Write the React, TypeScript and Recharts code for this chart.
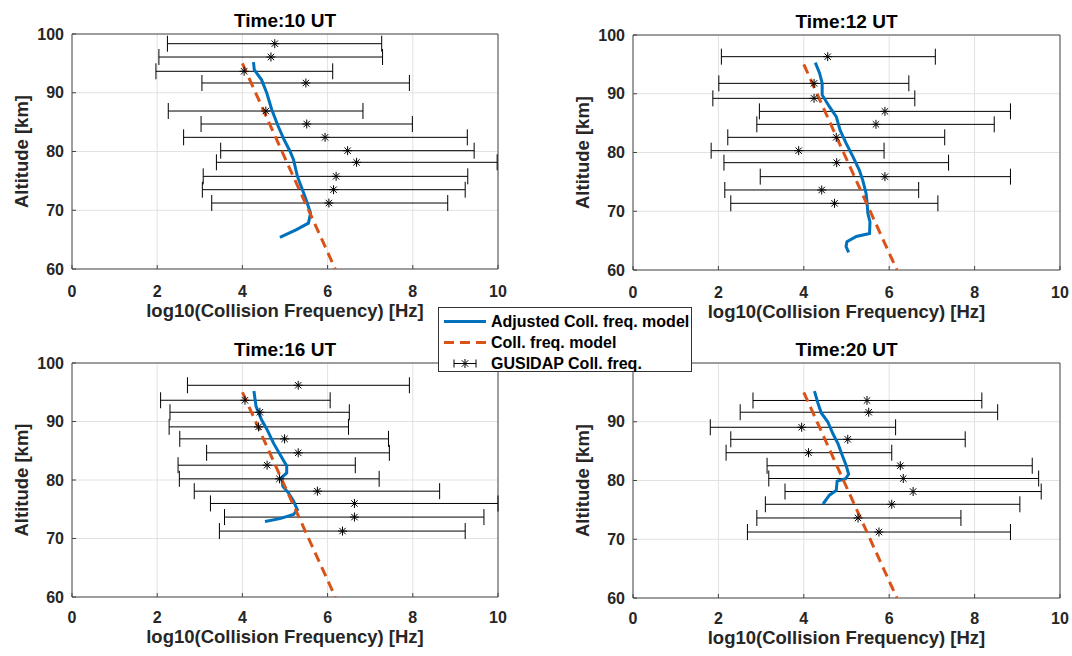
import React from 'react'
import { ScatterChart, Scatter, XAxis, YAxis, CartesianGrid, ErrorBar, ReferenceArea, Label } from 'recharts'

const xTicks = [0, 2, 4, 6, 8, 10]
const yTicks = [60, 70, 80, 90, 100]

// Coll. freq. model (same curve in every panel)
const modelAlt = [95, 80, 60]
const modelFreq = [4.0, 4.93, 6.18]

// Adjusted Coll. freq. model
const adj10Alt = [95.2, 93.9, 92.2, 90.0, 87.1, 84.3, 82.0, 80.0, 78.6, 75.8, 73.5, 71.5, 69.5, 67.8, 66.7, 65.4]
const adj10Freq = [4.26, 4.28, 4.45, 4.57, 4.69, 4.84, 4.98, 5.12, 5.2, 5.29, 5.41, 5.51, 5.6, 5.55, 5.27, 4.88]
const adj12Alt = [95.3, 93.5, 91.8, 89.8, 87.8, 86.1, 83.8, 81.6, 79.3, 77.0, 75.3, 73.0, 71.6, 69.6, 68.2, 66.2, 65.7, 64.8, 64.0, 63.0]
const adj12Freq = [4.27, 4.37, 4.43, 4.43, 4.6, 4.76, 4.85, 4.99, 5.15, 5.3, 5.38, 5.46, 5.48, 5.5, 5.55, 5.54, 5.23, 5.01, 4.99, 5.05]
const adj16Alt = [95.2, 92.6, 90.3, 88.6, 86.3, 84.4, 82.4, 81.2, 80.4, 78.9, 77.8, 76.4, 74.9, 74.1, 73.4, 72.9]
const adj16Freq = [4.27, 4.32, 4.45, 4.58, 4.73, 4.88, 5.04, 5.04, 4.92, 4.95, 5.08, 5.2, 5.29, 5.2, 4.88, 4.53]
const adj20Alt = [95.2, 93.2, 91.5, 90.0, 88.0, 86.3, 84.3, 82.6, 81.1, 80.3, 79.9, 78.3, 77.5, 76.0]
const adj20Freq = [4.25, 4.33, 4.41, 4.56, 4.68, 4.8, 4.9, 4.99, 5.05, 4.98, 4.78, 4.76, 4.6, 4.45]

// GUSIDAP Coll. freq. (value, lower and upper end of the bar)
const gus10Alt = [98.35, 96.08, 93.65, 91.66, 86.89, 84.68, 82.41, 80.14, 78.16, 75.77, 73.5, 71.23]
const gus10Freq = [4.76, 4.67, 4.04, 5.49, 4.55, 5.51, 5.94, 6.47, 6.68, 6.2, 6.14, 6.03]
const gus10Lo = [2.24, 2.04, 1.97, 3.05, 2.26, 3.03, 2.62, 3.49, 3.39, 3.08, 3.06, 3.28]
const gus10Hi = [7.27, 7.29, 6.12, 7.92, 6.83, 7.99, 9.28, 9.44, 9.98, 9.29, 9.23, 8.82]

const gus12Alt = [96.31, 91.77, 89.22, 87.0, 84.79, 82.58, 80.31, 78.27, 75.89, 73.62, 71.35]
const gus12Freq = [4.56, 4.24, 4.24, 5.9, 5.69, 4.76, 3.88, 4.77, 5.9, 4.42, 4.72]
const gus12Lo = [2.07, 2.01, 1.87, 2.96, 2.9, 2.22, 1.83, 2.13, 2.98, 2.15, 2.29]
const gus12Hi = [7.08, 6.46, 6.6, 8.84, 8.46, 7.3, 5.88, 7.39, 8.84, 6.69, 7.14]

const gus16Alt = [96.19, 93.63, 91.58, 89.08, 87.03, 84.64, 82.53, 80.2, 78.09, 75.99, 73.66, 71.27]
const gus16Freq = [5.31, 4.06, 4.41, 4.38, 4.99, 5.31, 4.58, 4.87, 5.76, 6.63, 6.63, 6.35]
const gus16Lo = [2.71, 2.08, 2.3, 2.28, 2.53, 3.16, 2.49, 2.52, 2.87, 3.25, 3.58, 3.46]
const gus16Hi = [7.92, 6.06, 6.51, 6.49, 7.43, 7.45, 6.65, 7.21, 8.63, 10.0, 9.67, 9.23]

const gus20Alt = [93.62, 91.62, 89.06, 87.01, 84.73, 82.51, 80.34, 78.12, 75.95, 73.62, 71.23]
const gus20Freq = [5.48, 5.52, 3.95, 5.03, 4.11, 6.26, 6.33, 6.56, 6.06, 5.27, 5.76]
const gus20Lo = [2.81, 2.51, 1.81, 2.29, 2.18, 3.14, 3.18, 3.56, 3.1, 2.9, 2.68]
const gus20Hi = [8.17, 8.54, 6.15, 7.78, 6.06, 9.35, 9.5, 9.56, 9.06, 7.68, 8.84]

const BLUE = '#0072BD'
const ORANGE = '#D95319'
const INK = '#262626'
const FONT = '"Liberation Sans", Arial, Helvetica, sans-serif'

const panels = [
  { title: 'Time:10 UT', adjAlt: adj10Alt, adjFreq: adj10Freq, alt: gus10Alt, freq: gus10Freq, lo: gus10Lo, hi: gus10Hi, plotL: 72, plotR: 498, plotT: 34, plotB: 269, tickGap: 21, labelOff: 2 },
  { title: 'Time:12 UT', adjAlt: adj12Alt, adjFreq: adj12Freq, alt: gus12Alt, freq: gus12Freq, lo: gus12Lo, hi: gus12Hi, plotL: 633, plotR: 1060, plotT: 35, plotB: 270, tickGap: 21, labelOff: 2 },
  { title: 'Time:16 UT', adjAlt: adj16Alt, adjFreq: adj16Freq, alt: gus16Alt, freq: gus16Freq, lo: gus16Lo, hi: gus16Hi, plotL: 72, plotR: 498, plotT: 363, plotB: 597, tickGap: 19, labelOff: 4 },
  { title: 'Time:20 UT', adjAlt: adj20Alt, adjFreq: adj20Freq, alt: gus20Alt, freq: gus20Freq, lo: gus20Lo, hi: gus20Hi, plotL: 633, plotR: 1060, plotT: 363, plotB: 598, tickGap: 19, labelOff: 4 },
]

const noDot = () => <g />

const Asterisk = (props: any) => {
  const { cx, cy } = props
  const r = 4.5
  const d = 3.2
  return (
    <g stroke="#000" strokeWidth={1}>
      <line x1={cx - r} y1={cy} x2={cx + r} y2={cy} />
      <line x1={cx} y1={cy - r} x2={cx} y2={cy + r} />
      <line x1={cx - d} y1={cy - d} x2={cx + d} y2={cy + d} />
      <line x1={cx - d} y1={cy + d} x2={cx + d} y2={cy - d} />
    </g>
  )
}

const tickStyle = { fontSize: 16, fontWeight: 'bold', fill: INK, fontFamily: FONT }
const labelStyle = { fontSize: 18.5, fontWeight: 'bold', fill: INK, fontFamily: FONT }

function Panel({ p }: { p: any }) {
  const left = p.plotL - 72
  const top = p.plotT - 40
  const width = p.plotR - left + 12
  // 50px for the x axis, plus room below for the label's descenders
  const height = p.plotB - top + 50 + 10
  const model = modelAlt.map((a, i) => ({ x: modelFreq[i], y: a }))
  const adj = p.adjAlt.map((a: number, i: number) => ({ x: p.adjFreq[i], y: a }))
  const gus = p.alt.map((a: number, i: number) => ({
    x: p.freq[i],
    y: a,
    err: [p.freq[i] - p.lo[i], p.hi[i] - p.freq[i]],
  }))

  return (
    <>
      <div
        style={{
          position: 'absolute',
          left: (p.plotL + p.plotR) / 2 - 150,
          width: 300,
          top: p.plotT - 23.5,
          textAlign: 'center',
          fontFamily: FONT,
          fontWeight: 'bold',
          fontSize: 19,
          lineHeight: '19px',
          color: '#000',
        }}
      >
        {p.title}
      </div>
      <div style={{ position: 'absolute', left, top }}>
        <ScatterChart width={width} height={height} margin={{ top: 40, right: 12, bottom: 10, left: 0 }}>
          <CartesianGrid stroke="#e2e2e2" />
          <XAxis
            type="number"
            dataKey="x"
            domain={[0, 10]}
            ticks={xTicks}
            allowDataOverflow
            height={50}
            axisLine={false}
            tickSize={-4}
            tickMargin={p.tickGap}
            tickLine={{ stroke: '#444' }}
            tick={tickStyle}
          >
            <Label value="log10(Collision Frequency) [Hz]" position="insideBottom" offset={p.labelOff} style={labelStyle} />
          </XAxis>
          <YAxis
            type="number"
            dataKey="y"
            domain={[60, 100]}
            ticks={yTicks}
            allowDataOverflow
            width={72}
            axisLine={false}
            tickSize={-4}
            tickMargin={12}
            tickLine={{ stroke: '#444' }}
            tick={tickStyle}
          >
            <Label value="Altitude [km]" angle={-90} position="insideLeft" offset={21} style={{ ...labelStyle, textAnchor: 'middle' }} />
          </YAxis>
          <ReferenceArea x1={0} x2={10} y1={60} y2={100} fill="none" stroke="#4a4a4a" strokeWidth={1} />
          <Scatter data={adj} line={{ stroke: BLUE, strokeWidth: 3 }} shape={noDot} isAnimationActive={false} />
          <Scatter data={model} line={{ stroke: ORANGE, strokeWidth: 3, strokeDasharray: '10 6' }} shape={noDot} isAnimationActive={false} />
          <Scatter data={gus} shape={Asterisk} fill="#000" isAnimationActive={false}>
            <ErrorBar dataKey="err" direction="x" width={8} stroke="#000" strokeWidth={1} />
          </Scatter>
        </ScatterChart>
      </div>
    </>
  )
}

function LegendBox() {
  const rows = [
    { name: 'Adjusted Coll. freq. model', kind: 'solid' },
    { name: 'Coll. freq. model', kind: 'dash' },
    { name: 'GUSIDAP Coll. freq.', kind: 'err' },
  ]
  return (
    <div
      style={{
        position: 'absolute',
        left: 438,
        top: 307,
        width: 252,
        height: 63,
        background: '#fff',
        border: '1px solid #333',
        fontFamily: FONT,
        fontWeight: 'bold',
        fontSize: 16,
        color: '#000',
      }}
    >
      {rows.map((r, i) => (
        <div key={r.name} style={{ position: 'absolute', left: 0, top: 3 + i * 21, height: 21, display: 'flex', alignItems: 'center' }}>
          <svg width={52} height={21} style={{ display: 'block' }}>
            {r.kind === 'solid' && <line x1={5} y1={10.5} x2={47} y2={10.5} stroke={BLUE} strokeWidth={3} />}
            {r.kind === 'dash' && <line x1={5} y1={10.5} x2={47} y2={10.5} stroke={ORANGE} strokeWidth={3} strokeDasharray="10 6" />}
            {r.kind === 'err' && (
              <g stroke="#000" strokeWidth={1}>
                <line x1={15} y1={10.5} x2={37} y2={10.5} />
                <line x1={15} y1={6.5} x2={15} y2={14.5} />
                <line x1={37} y1={6.5} x2={37} y2={14.5} />
                <line x1={21.5} y1={10.5} x2={30.5} y2={10.5} />
                <line x1={26} y1={6} x2={26} y2={15} />
                <line x1={22.8} y1={7.3} x2={29.2} y2={13.7} />
                <line x1={22.8} y1={13.7} x2={29.2} y2={7.3} />
              </g>
            )}
          </svg>
          <span style={{ whiteSpace: 'nowrap' }}>{r.name}</span>
        </div>
      ))}
    </div>
  )
}

export default function App() {
  return (
    <div style={{ position: 'absolute', left: 0, top: 0, width: 1072, height: 656, background: '#fff', overflow: 'hidden' }}>
      {panels.map((p) => (
        <Panel key={p.title} p={p} />
      ))}
      <LegendBox />
    </div>
  )
}
